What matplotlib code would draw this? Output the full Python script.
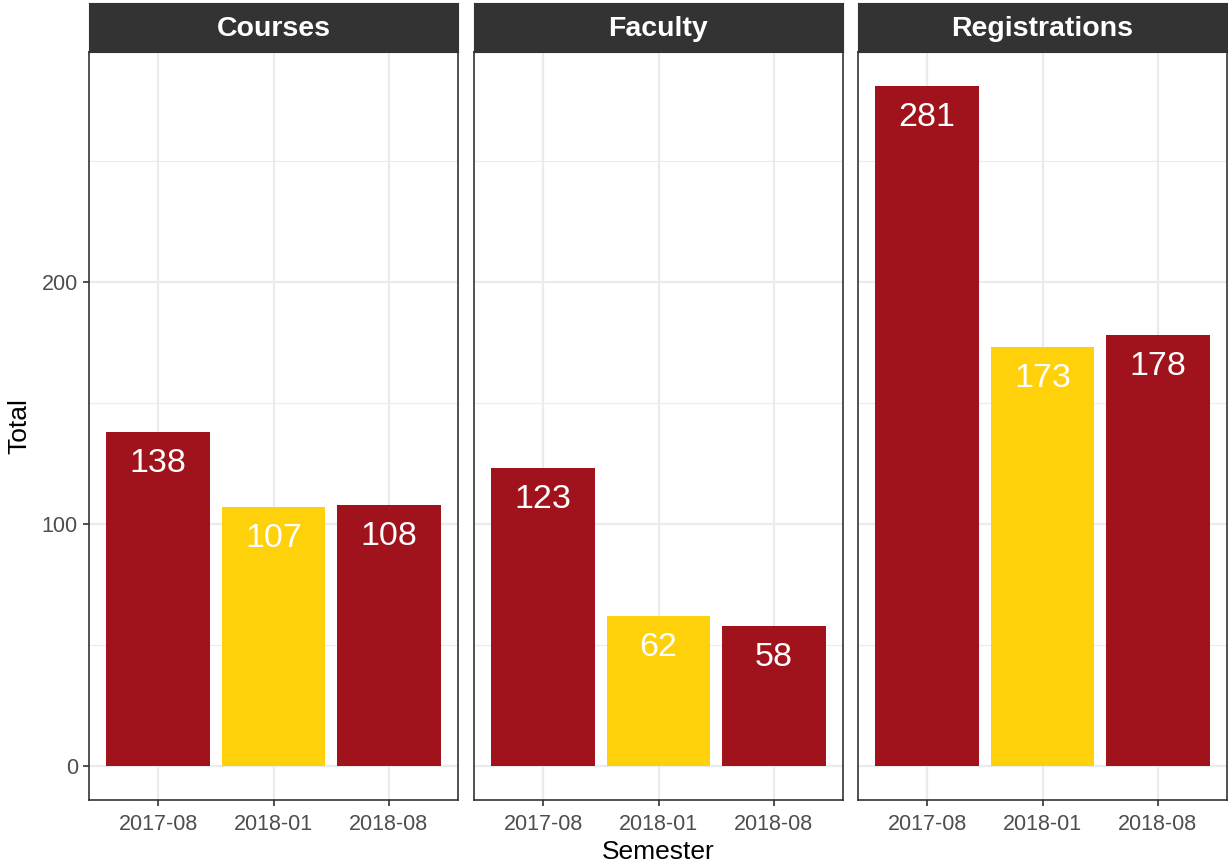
import matplotlib
matplotlib.use("Agg")
import matplotlib.pyplot as plt
from matplotlib.patches import Rectangle

plt.rcParams['font.family'] = ['Liberation Sans', 'DejaVu Sans']

panels = ["Courses", "Faculty", "Registrations"]
semesters = ["2017-08", "2018-01", "2018-08"]
values = {
    "Courses": [138, 107, 108],
    "Faculty": [123, 62, 58],
    "Registrations": [281, 173, 178],
}
bar_colors = ["#A0121C", "#FED10A", "#A0121C"]

W, H = 1228, 867
fig = plt.figure(figsize=(W / 100, H / 100), dpi=100)

lefts = [89, 474, 858]
pw = 369
top_px, bot_px = 52, 800
strip_top = 3

ymax_all = max(max(v) for v in values.values())
ylo, yhi = -0.05 * ymax_all, 1.05 * ymax_all

for i, name in enumerate(panels):
    l = lefts[i]
    ax = fig.add_axes([l / W, 1 - bot_px / H, pw / W, (bot_px - top_px) / H])
    x = list(range(1, len(semesters) + 1))
    ax.bar(x, values[name], width=0.9, color=bar_colors, zorder=2)
    for xi, v in zip(x, values[name]):
        ax.annotate(str(v), (xi, v), xytext=(0, -11.5), textcoords="offset points",
                    ha="center", va="top", color="white", fontsize=24.5, zorder=3)
    ax.set_xlim(0.4, 3.6)
    ax.set_ylim(ylo, yhi)
    ax.set_xticks(x)
    ax.set_xticklabels(semesters)
    ax.set_yticks([0, 100, 200])
    ax.set_yticks([50, 150, 250], minor=True)
    ax.grid(True, which="major", color="#EBEBEB", linewidth=1.6, zorder=0)
    ax.grid(True, which="minor", axis="y", color="#EBEBEB", linewidth=0.8, zorder=0)
    ax.set_axisbelow(True)
    ax.tick_params(axis="both", which="major", length=4, width=1.2, color="#333333",
                   labelsize=15.5, labelcolor="#4D4D4D", pad=4)
    ax.tick_params(axis="x", which="major", pad=6)
    ax.tick_params(axis="y", which="minor", length=0)
    if i > 0:
        ax.tick_params(axis="y", which="major", labelleft=False, length=0)
    for s in ax.spines.values():
        s.set_color("#333333")
        s.set_linewidth(1.2)
    # strip
    sax = fig.add_axes([l / W, 1 - top_px / H, pw / W, (top_px - strip_top) / H])
    sax.add_patch(Rectangle((0, 0), 1, 1, transform=sax.transAxes, facecolor="#333333",
                            edgecolor="#333333"))
    sax.set_xticks([]); sax.set_yticks([])
    for s in sax.spines.values():
        s.set_color("#333333")
    sax.text(0.5, 0.47, name, ha="center", va="center", color="white",
             fontsize=20.5, fontweight="bold", transform=sax.transAxes)

fig.text((lefts[0] + lefts[2] + pw) / 2 / W, 1 - 852 / H, "Semester", ha="center",
         va="center", fontsize=19, color="black")
fig.text(19 / W, 1 - 426 / H, "Total", ha="center", va="center", rotation=90,
         fontsize=19, color="black")

fig.savefig("out.png", dpi=100, facecolor="white")
